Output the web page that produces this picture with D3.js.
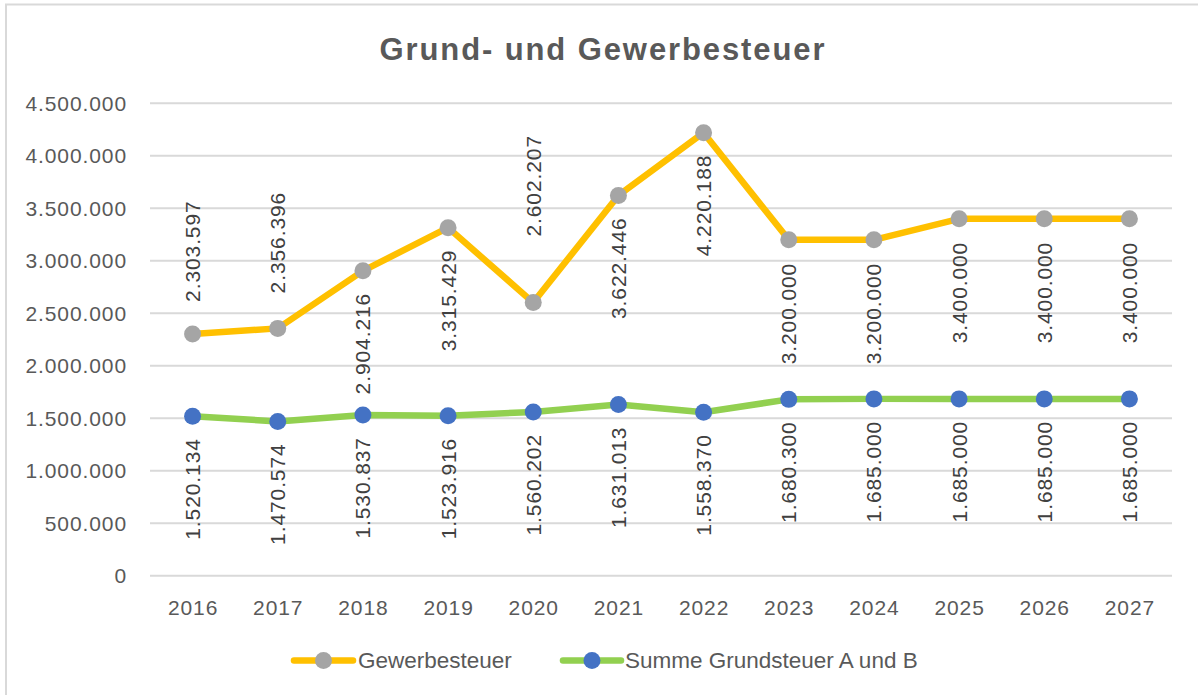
<!DOCTYPE html>
<html>
<head>
<meta charset="utf-8">
<script src="https://cdn.jsdelivr.net/npm/d3@7"></script>
<style>
  body { margin: 0; background: #fff; }
  text { font-family: "Liberation Sans", Arial, sans-serif; }
</style>
</head>
<body>
<div id="chart"></div>
<script>
const years = ["2016", "2017", "2018", "2019", "2020", "2021", "2022", "2023", "2024", "2025", "2026", "2027"]
const gewerbesteuer = [2303597, 2356396, 2904216, 3315429, 2602207, 3622446, 4220188, 3200000, 3200000, 3400000, 3400000, 3400000]
const grundsteuer = [1520134, 1470574, 1530837, 1523916, 1560202, 1631013, 1558370, 1680300, 1685000, 1685000, 1685000, 1685000]
const yTicks = [0, 500000, 1000000, 1500000, 2000000, 2500000, 3000000, 3500000, 4000000, 4500000]

// label offsets in px from the point (negative = label sits above the point)
const gewLabelGap = [-32, -35, 22, 22, -66, 22, 22, 23, 23, 23, 23, 23]
const grundLabelGap = 22

const svgWidth = 1198
const svgHeight = 695

const de = d3.formatLocale({decimal: ",", thousands: ".", grouping: [3], currency: ["", " €"]})
const fmt = de.format(",d")

const svg = d3.select("#chart").append("svg")
    .attr("width", svgWidth)
    .attr("height", svgHeight)

// chart border (only top and left edges fall inside the picture)
svg.append("rect")
    .attr("x", 6)
    .attr("y", 4.5)
    .attr("width", 1400)
    .attr("height", 900)
    .attr("fill", "none")
    .attr("stroke", "#d9d9d9")
    .attr("stroke-width", 2)

svg.append("text")
    .attr("x", 602)
    .attr("y", 60)
    .attr("text-anchor", "middle")
    .attr("font-size", 31)
    .attr("font-weight", "bold")
    .attr("fill", "#595959")
    .attr("textLength", 445)
    .attr("lengthAdjust", "spacing")
    .text("Grund- und Gewerbesteuer")

const x = d3.scalePoint()
    .domain(years)
    .range([150, 1172])
    .padding(0.5)

const y = d3.scaleLinear()
    .domain([0, 4500000])
    .range([575.8, 103.3])

// gridlines
svg.append("g")
    .selectAll("line")
    .data(yTicks)
    .enter()
    .append("line")
    .attr("x1", 150)
    .attr("x2", 1172)
    .attr("y1", d => y(d))
    .attr("y2", d => y(d))
    .attr("stroke", "#d9d9d9")
    .attr("stroke-width", 2)

const yAxisG = svg.append("g")
    .attr("transform", "translate(150,0)")
    .call(d3.axisLeft(y).tickValues(yTicks).tickSize(0).tickPadding(23).tickFormat(fmt))
yAxisG.select(".domain").remove()
yAxisG.selectAll("text")
    .attr("font-size", 21)
    .attr("letter-spacing", "0.9px")
    .attr("fill", "#595959")
    .attr("font-family", "Liberation Sans, Arial, sans-serif")

const xAxisG = svg.append("g")
    .attr("transform", `translate(0,${y(0)})`)
    .call(d3.axisBottom(x).tickSize(0).tickPadding(24))
xAxisG.select(".domain").remove()
xAxisG.selectAll("text")
    .attr("font-size", 21)
    .attr("letter-spacing", "0.9px")
    .attr("fill", "#595959")
    .attr("font-family", "Liberation Sans, Arial, sans-serif")

const series = [
    {name: "Gewerbesteuer", values: gewerbesteuer, line: "#FFC000", marker: "#A5A5A5"},
    {name: "Summe Grundsteuer A und B", values: grundsteuer, line: "#92D050", marker: "#4472C4"}
]

const lineGen = d3.line()
    .x((d, i) => x(years[i]))
    .y(d => y(d))

series.forEach(s => {
    svg.append("path")
        .datum(s.values)
        .attr("d", lineGen)
        .attr("fill", "none")
        .attr("stroke", s.line)
        .attr("stroke-width", 6.5)
        .attr("stroke-linejoin", "round")
        .attr("stroke-linecap", "round")

    svg.append("g")
        .selectAll("circle")
        .data(s.values)
        .enter()
        .append("circle")
        .attr("cx", (d, i) => x(years[i]))
        .attr("cy", d => y(d))
        .attr("r", 8.5)
        .attr("fill", s.marker)
})

const addLabels = (values, gapOf) => {
    svg.append("g")
        .selectAll("text")
        .data(values)
        .enter()
        .append("text")
        .attr("transform", (d, i) => {
            const g = gapOf(i)
            return `translate(${x(years[i])},${y(d) + g}) rotate(-90)`
        })
        .attr("text-anchor", (d, i) => gapOf(i) < 0 ? "start" : "end")
        .attr("dominant-baseline", "central")
        .attr("font-size", 21)
        .attr("letter-spacing", "0.9px")
        .attr("fill", "#404040")
        .text(d => fmt(d))
}

addLabels(gewerbesteuer, i => gewLabelGap[i])
addLabels(grundsteuer, i => grundLabelGap)

// legend
const legendItems = [
    {s: series[0], x1: 294, x2: 353, tx: 358},
    {s: series[1], x1: 563, x2: 621, tx: 625}
]
const legendY = 660.5

legendItems.forEach(item => {
    const g = svg.append("g")
    g.append("line")
        .attr("x1", item.x1)
        .attr("x2", item.x2)
        .attr("y1", legendY)
        .attr("y2", legendY)
        .attr("stroke", item.s.line)
        .attr("stroke-width", 6.5)
        .attr("stroke-linecap", "round")
    g.append("circle")
        .attr("cx", (item.x1 + item.x2) / 2)
        .attr("cy", legendY)
        .attr("r", 8.5)
        .attr("fill", item.s.marker)
    g.append("text")
        .attr("x", item.tx)
        .attr("y", legendY)
        .attr("dominant-baseline", "central")
        .attr("font-size", 22.5)
        .attr("fill", "#595959")
        .text(item.s.name)
})
</script>
</body>
</html>
